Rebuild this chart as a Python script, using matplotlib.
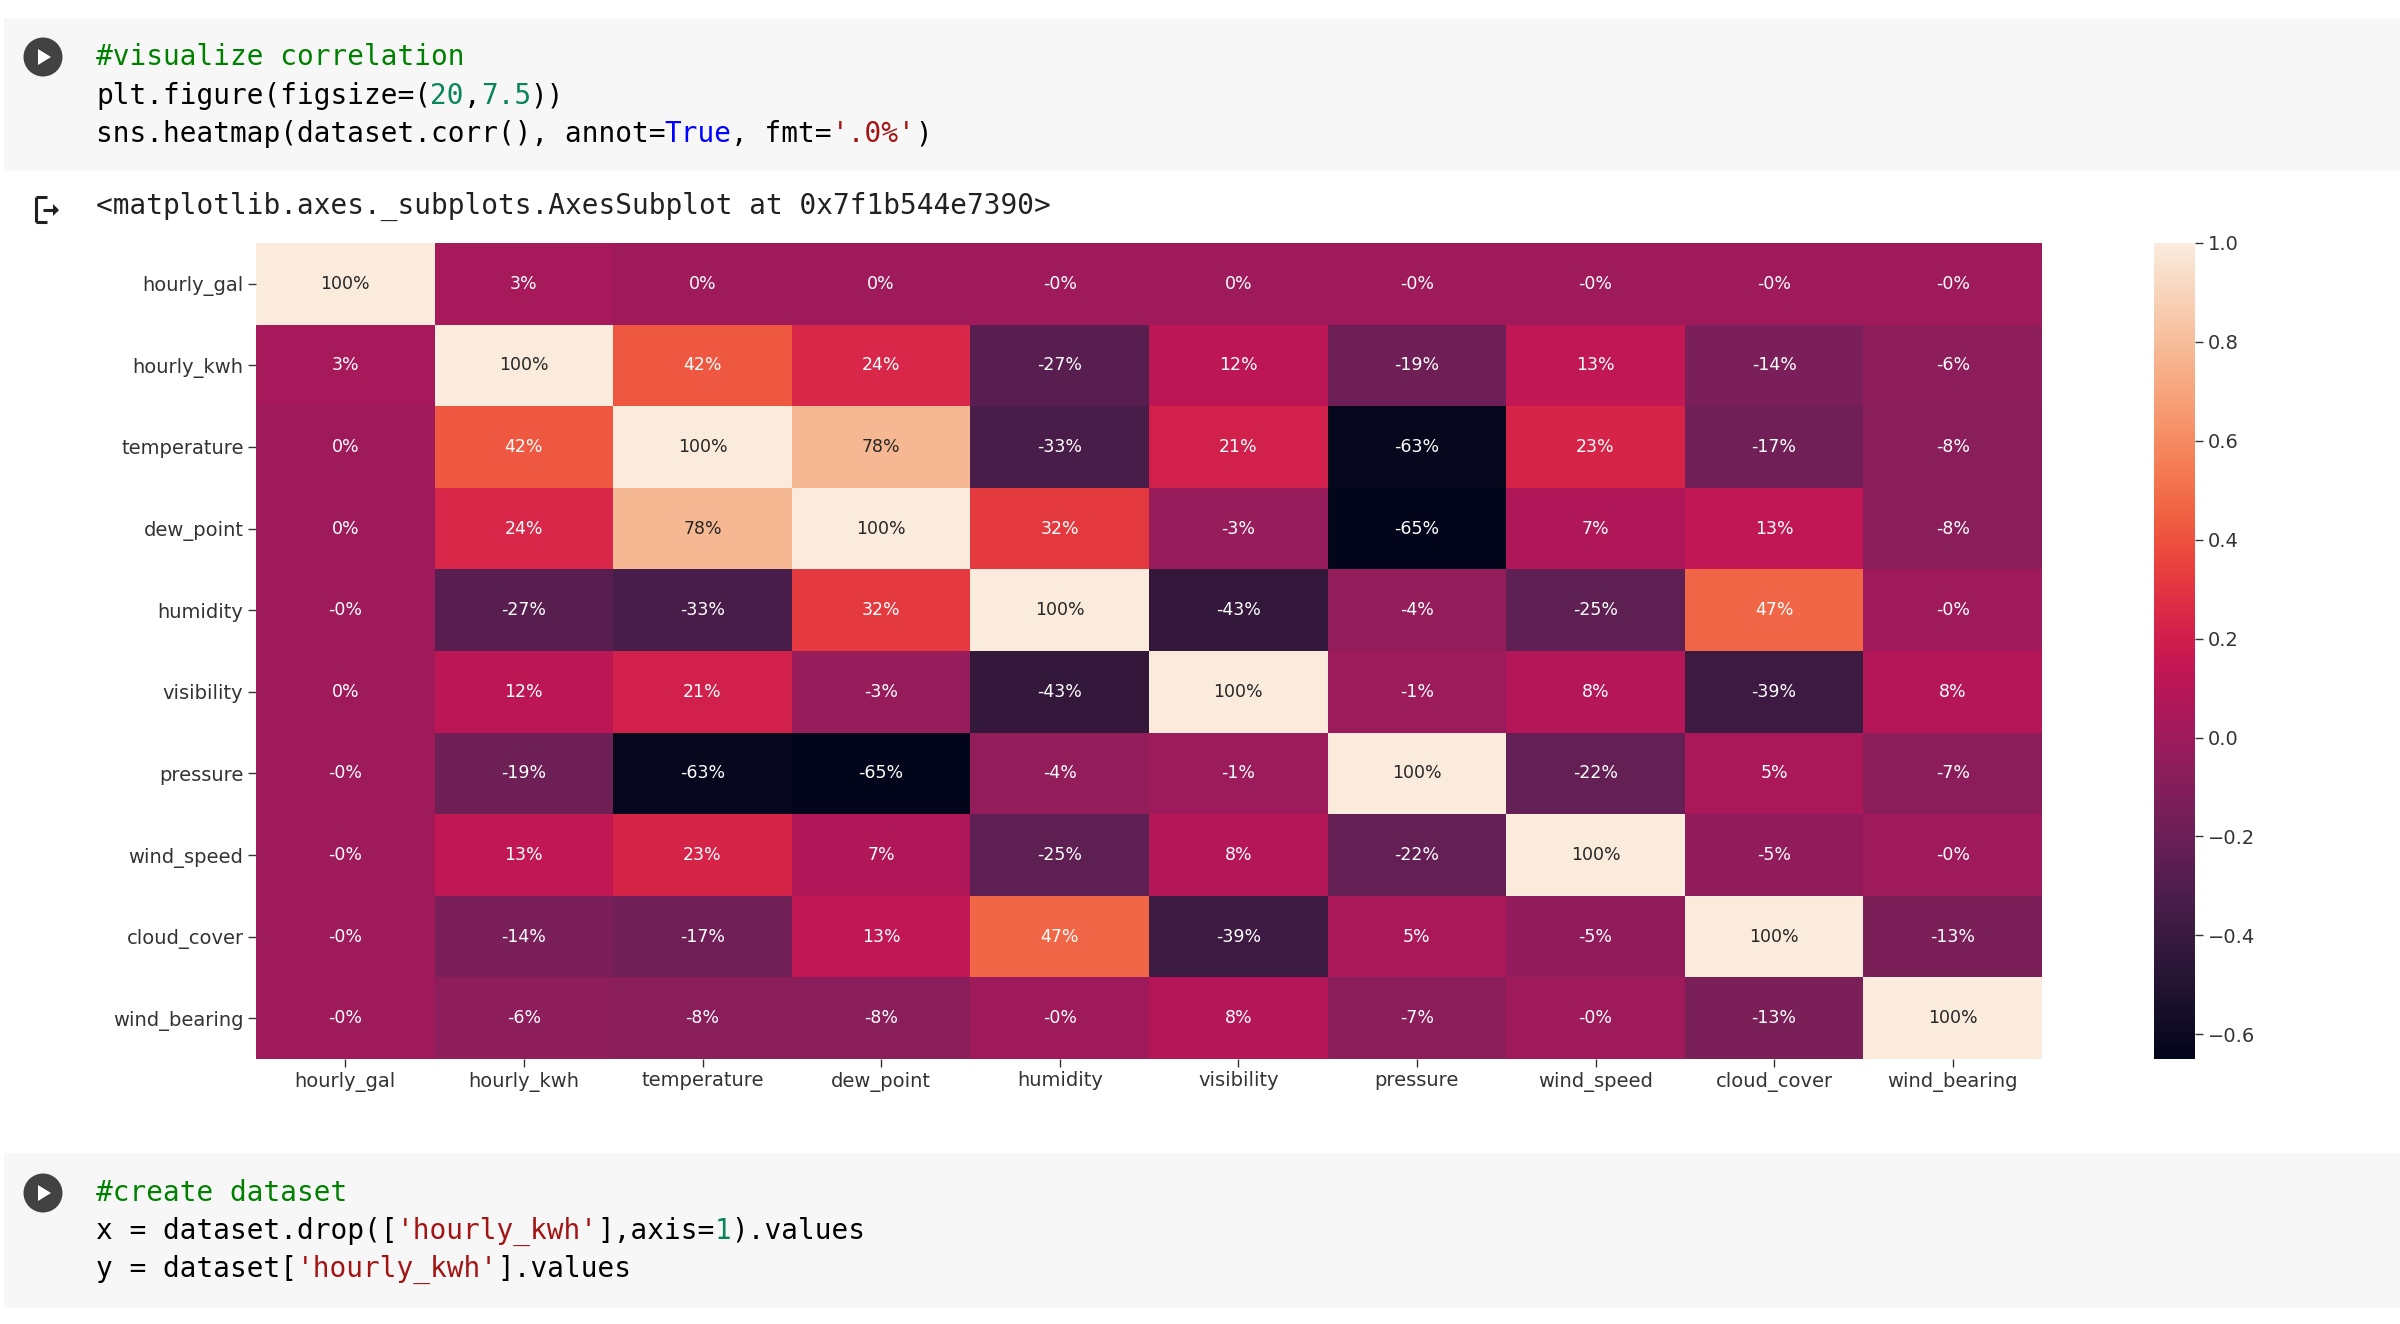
import numpy as np
import matplotlib
matplotlib.use('Agg')
import matplotlib.pyplot as plt
from matplotlib.patches import Rectangle, Circle, Polygon
from matplotlib.lines import Line2D

# columns of the correlation matrix
labels = ['hourly_gal', 'hourly_kwh', 'temperature', 'dew_point', 'humidity',
          'visibility', 'pressure', 'wind_speed', 'cloud_cover', 'wind_bearing']

# values (fractions); "-0%" cells kept as tiny negatives
corr = np.array([
    [1.00, 0.03, 0.002, 0.002, -0.002, 0.002, -0.002, -0.002, -0.002, -0.002],
    [0.03, 1.00, 0.42, 0.24, -0.27, 0.12, -0.19, 0.13, -0.14, -0.06],
    [0.002, 0.42, 1.00, 0.78, -0.33, 0.21, -0.63, 0.23, -0.17, -0.08],
    [0.002, 0.24, 0.78, 1.00, 0.32, -0.03, -0.65, 0.07, 0.13, -0.08],
    [-0.002, -0.27, -0.33, 0.32, 1.00, -0.43, -0.04, -0.25, 0.47, -0.002],
    [0.002, 0.12, 0.21, -0.03, -0.43, 1.00, -0.01, 0.08, -0.39, 0.08],
    [-0.002, -0.19, -0.63, -0.65, -0.04, -0.01, 1.00, -0.22, 0.05, -0.07],
    [-0.002, 0.13, 0.23, 0.07, -0.25, 0.08, -0.22, 1.00, -0.05, -0.002],
    [-0.002, -0.14, -0.17, 0.13, 0.47, -0.39, 0.05, -0.05, 1.00, -0.13],
    [-0.002, -0.06, -0.08, -0.08, -0.002, 0.08, -0.07, -0.002, -0.13, 1.00],
])

cbar_ticks = [-0.6, -0.4, -0.2, 0.0, 0.2, 0.4, 0.6, 0.8, 1.0]

# notebook cells: list of lines, each line a list of (text, colour)
GREEN, TEAL, BLUE, RED, BLACK = '#008000', '#098658', '#0000ff', '#a31515', '#000000'
cell1 = [
    [('#visualize correlation', GREEN)],
    [('plt.figure(figsize=(', BLACK), ('20', TEAL), (',', BLACK), ('7.5', TEAL), ('))', BLACK)],
    [('sns.heatmap(dataset.corr(), annot=', BLACK), ('True', BLUE), (', fmt=', BLACK),
     ("'.0%'", RED), (')', BLACK)],
]
output_line = '<matplotlib.axes._subplots.AxesSubplot at 0x7f1b544e7390>'
cell2 = [
    [('#create dataset', GREEN)],
    [('x = dataset.drop([', BLACK), ("'hourly_kwh'", RED), ('],axis=', BLACK), ('1', TEAL),
     (').values', BLACK)],
    [('y = dataset[', BLACK), ("'hourly_kwh'", RED), ('].values', BLACK)],
]

try:
    import seaborn as sns
    cmap = sns.color_palette('rocket', as_cmap=True)
except Exception:
    from matplotlib.colors import LinearSegmentedColormap
    cmap = LinearSegmentedColormap.from_list('rocket', [
        '#03051a', '#221331', '#451c47', '#6a1f56', '#921c5b', '#b91657',
        '#dd2c45', '#f06043', '#f5936a', '#f6be9f', '#faebdd'])

W, H = 2400, 1324
fig = plt.figure(figsize=(W / 100, H / 100), dpi=100)


def fx(x):
    return x / W


def fy(y):
    return 1 - y / H


MONO = 'DejaVu Sans Mono'
CODE_SIZE = 20
charw = 0.60205 * CODE_SIZE * 100 / 72  # pixel advance of one monospace char


def code_line(segments, x0, y):
    col = 0
    for txt, c in segments:
        fig.text(fx(x0 + col * charw), fy(y), txt, color=c, family=MONO,
                 fontsize=CODE_SIZE, va='center', ha='left')
        col += len(txt)


def run_button(cx, cy):
    fig.add_artist(Circle((fx(cx), fy(cy)), 19 / W, transform=fig.transFigure,
                          facecolor='#424242', edgecolor='none'))
    # keep the circle round: scale the y radius through an ellipse instead
    pass


def code_cell(lines, top, bottom, ys):
    fig.add_artist(Rectangle((fx(4), fy(bottom)), fx(W - 4), (bottom - top) / H,
                             transform=fig.transFigure, facecolor='#f7f7f7',
                             edgecolor='none', zorder=0))
    from matplotlib.patches import Ellipse
    cx, cy = 43, ys[0]
    fig.add_artist(Ellipse((fx(cx), fy(cy)), 39 / W, 39 / H, transform=fig.transFigure,
                           facecolor='#424242', edgecolor='none'))
    fig.add_artist(Polygon([(fx(cx - 5), fy(cy - 8)), (fx(cx - 5), fy(cy + 8)),
                            (fx(cx + 8), fy(cy))], closed=True,
                           transform=fig.transFigure, facecolor='white', edgecolor='none'))
    for segs, y in zip(lines, ys):
        code_line(segs, 96, y)


code_cell(cell1, 18, 171, [57, 96, 134])
code_cell(cell2, 1153, 1308, [1193, 1231, 1269])

# output icon and text
lw = 2.2
for (x1, y1, x2, y2) in [(36, 197, 36, 222), (36, 197, 47, 197), (36, 222, 47, 222),
                         (43, 210, 57, 210)]:
    fig.add_artist(Line2D([fx(x1), fx(x2)], [fy(y1), fy(y2)], transform=fig.transFigure,
                          color='#212121', lw=lw, solid_capstyle='butt'))
fig.add_artist(Polygon([(fx(59), fy(210)), (fx(53), fy(204)), (fx(53), fy(216))],
                       closed=True, transform=fig.transFigure, facecolor='#212121',
                       edgecolor='none'))
fig.text(fx(96), fy(206), output_line, family=MONO, fontsize=CODE_SIZE,
         color='#212121', va='center', ha='left')

# heatmap
ax = fig.add_axes([fx(256), fy(1059), (2042 - 256) / W, (1059 - 243) / H])
n = len(labels)
vmin, vmax = corr.min(), corr.max()
mesh = ax.pcolormesh(np.arange(n + 1), np.arange(n + 1), corr, cmap=cmap,
                     vmin=vmin, vmax=vmax)
ax.set_xlim(0, n)
ax.set_ylim(n, 0)
for s in ax.spines.values():
    s.set_visible(False)
ax.set_xticks(np.arange(n) + 0.5)
ax.set_yticks(np.arange(n) + 0.5)
ax.set_xticklabels(labels)
ax.set_yticklabels(labels)
ax.tick_params(labelsize=14, labelcolor='#333333', color='#333333', length=5.5, width=1)


def rel_lum(c):
    c = np.array(c[:3])
    c = np.where(c <= 0.03928, c / 12.92, ((c + 0.055) / 1.055) ** 2.4)
    return 0.2126 * c[0] + 0.7152 * c[1] + 0.0722 * c[2]


for i in range(n):
    for j in range(n):
        v = corr[i, j]
        rgba = cmap((v - vmin) / (vmax - vmin))
        tc = '#262626' if rel_lum(rgba) > 0.408 else 'white'
        ax.text(j + 0.5, i + 0.5, '{:.0%}'.format(v), ha='center', va='center',
                fontsize=12.5, color=tc)

# colorbar
cax = fig.add_axes([fx(2154), fy(1059), (2195 - 2154) / W, (1059 - 243) / H])
cb = fig.colorbar(mesh, cax=cax)
cb.outline.set_visible(False)
cb.set_ticks(cbar_ticks)
cax.tick_params(labelsize=14, labelcolor='#333333', color='#333333', length=5.5, width=1)

fig.savefig('out.png', dpi=100)
